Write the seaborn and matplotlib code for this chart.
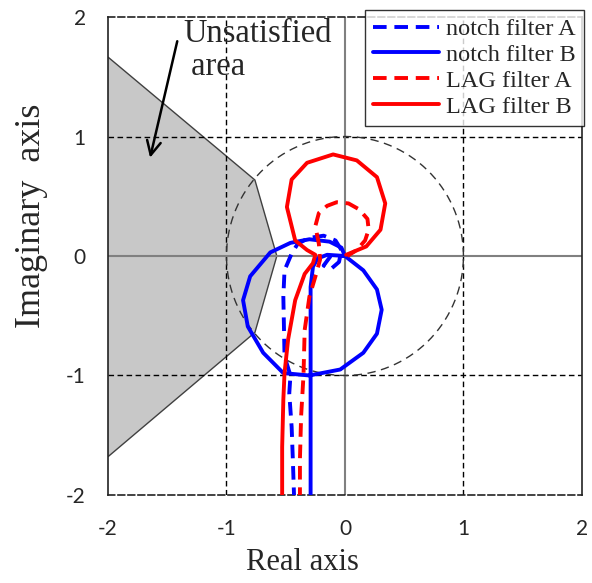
import numpy as np
import pandas as pd
import matplotlib
matplotlib.use("Agg")
import matplotlib.pyplot as plt
from matplotlib.patches import Polygon
import seaborn as sns

# ---- data ----
notch_a_x = [-0.42, -0.43, -0.44, -0.45, -0.47, -0.46, -0.51, -0.52, -0.51, -0.45, -0.40,
             -0.31, -0.18, -0.08, -0.03, -0.05, -0.12, -0.18, -0.12, 0.0]
notch_a_y = [-2.05, -2.0, -1.7, -1.43, -1.15, -1.0, -0.84, -0.34, -0.12, 0.02, 0.10,
             0.15, 0.17, 0.13, 0.05, -0.05, -0.11, -0.08, 0.0, 0.0]

notch_b_x = [-0.29, -0.29, -0.29, -0.29, -0.27, -0.23, -0.15, 0.0, 0.155, 0.27, 0.31, 0.27,
             0.155, -0.04, -0.30, -0.52, -0.69, -0.82, -0.86, -0.80, -0.63, -0.46, -0.30,
             -0.13, -0.03, 0.0]
notch_b_y = [-2.05, -1.0, -0.6, -0.26, -0.09, -0.02, 0.01, 0.0, -0.12, -0.28, -0.45, -0.65,
             -0.81, -0.95, -1.0, -0.98, -0.81, -0.59, -0.37, -0.17, 0.03, 0.11, 0.14,
             0.12, 0.07, 0.0]

lag_a_x = [-0.38, -0.38, -0.38, -0.37, -0.35, -0.34, -0.30, -0.24, -0.21, -0.22, -0.25,
           -0.22, -0.15, -0.07, 0.03, 0.12, 0.19, 0.20, 0.17, 0.10, 0.02]
lag_a_y = [-2.05, -2.0, -1.7, -1.34, -1.0, -0.62, -0.34, -0.14, -0.03, 0.10, 0.25,
           0.36, 0.42, 0.45, 0.44, 0.39, 0.31, 0.22, 0.13, 0.05, 0.0]

lag_b_x = [-0.53, -0.53, -0.52, -0.51, -0.48, -0.42, -0.34, -0.27, -0.25, -0.32, -0.42,
           -0.49, -0.45, -0.32, -0.10, 0.10, 0.27, 0.34, 0.30, 0.18, 0.01]
lag_b_y = [-2.05, -1.6, -1.2, -0.98, -0.70, -0.37, -0.15, -0.06, 0.01, 0.05, 0.13,
           0.41, 0.64, 0.78, 0.85, 0.80, 0.66, 0.44, 0.22, 0.08, 0.01]

area_x = [-2.0, -0.76, -0.575, -0.76, -2.0]
area_y = [1.665, 0.636, 0.0, -0.64, -1.68]

ticks = [-2, -1, 0, 1, 2]

series = [
    ("notch filter A", notch_a_x, notch_a_y, "blue", (0, (3.5, 2))),
    ("notch filter B", notch_b_x, notch_b_y, "blue", "-"),
    ("LAG filter A", lag_a_x, lag_a_y, "red", (0, (3.5, 2))),
    ("LAG filter B", lag_b_x, lag_b_y, "red", "-"),
]

sns.set_style("white")
plt.rcParams["font.family"] = ["Liberation Serif", "DejaVu Serif"]

fig = plt.figure(figsize=(5.92, 5.83), dpi=100)
ax = fig.add_axes([0.1824, 0.151, 0.8006, 0.8198])

# unsatisfied area
ax.add_patch(Polygon(np.column_stack([area_x, area_y]), closed=False,
                     facecolor="#c8c8c8", edgecolor="#404040", lw=1.0, zorder=1))

# grid lines
for v in (-1, 1):
    ax.axhline(v, color="black", lw=1.0, ls=(0, (4, 2.5)), zorder=2)
    ax.axvline(v, color="black", lw=1.0, ls=(0, (4, 2.5)), zorder=2)
ax.axhline(0, color="#808080", lw=1.5, zorder=2)
ax.axvline(0, color="#808080", lw=1.5, zorder=2)

# unit circle
th = np.linspace(0, 2 * np.pi, 400)
ax.plot(np.cos(th), np.sin(th), color="#333333", lw=1.0, ls=(0, (6, 4)), zorder=2)

for name, xs, ys, col, ls in series:
    df = pd.DataFrame({"x": xs, "y": ys})
    sns.lineplot(data=df, x="x", y="y", sort=False, estimator=None, ax=ax,
                 color=col, lw=2.8, linestyle=ls, label=name, zorder=4)

ax.set_xlim(-2, 2)
ax.set_ylim(-2, 2)
ax.set_xticks(ticks)
ax.set_yticks(ticks)
ax.set_xticklabels([str(t) for t in ticks], family="Lato", fontsize=15)
ax.set_yticklabels([str(t) for t in ticks], family="Lato", fontsize=15)
ax.tick_params(axis="x", length=0, pad=17)
ax.tick_params(axis="y", length=0, pad=16)
ax.set_xlabel("Real axis", fontsize=22)
ax.set_ylabel("Imaginary  axis", fontsize=26)
ax.xaxis.set_label_coords(0.41, -0.11)
ax.yaxis.set_label_coords(-0.126, 0.584)

for s in ("top", "bottom"):
    ax.spines[s].set_linestyle((0, (4, 2)))
for s in ax.spines.values():
    s.set_color("#222222")
    s.set_linewidth(1.2)

ax.annotate("", xy=(-1.65, 0.80), xytext=(-1.41, 1.82),
            arrowprops=dict(arrowstyle="->", color="black", lw=1.8,
                            mutation_scale=25), zorder=5)
ax.text(-1.365, 1.99, "Unsatisfied\n area", fontsize=23.5, va="top", ha="left",
        linespacing=1.1, zorder=5)

leg = ax.legend(loc="upper right", bbox_to_anchor=(1.004, 1.0146), fontsize=17.5,
                handlelength=2.7, frameon=True, fancybox=False, shadow=False,
                borderpad=0.33, labelspacing=0.16, handletextpad=0.3,
                borderaxespad=0)
leg.get_frame().set_edgecolor("black")
leg.get_frame().set_linewidth(1.0)
leg.set_zorder(10)

fig.savefig("out.png", dpi=100)
